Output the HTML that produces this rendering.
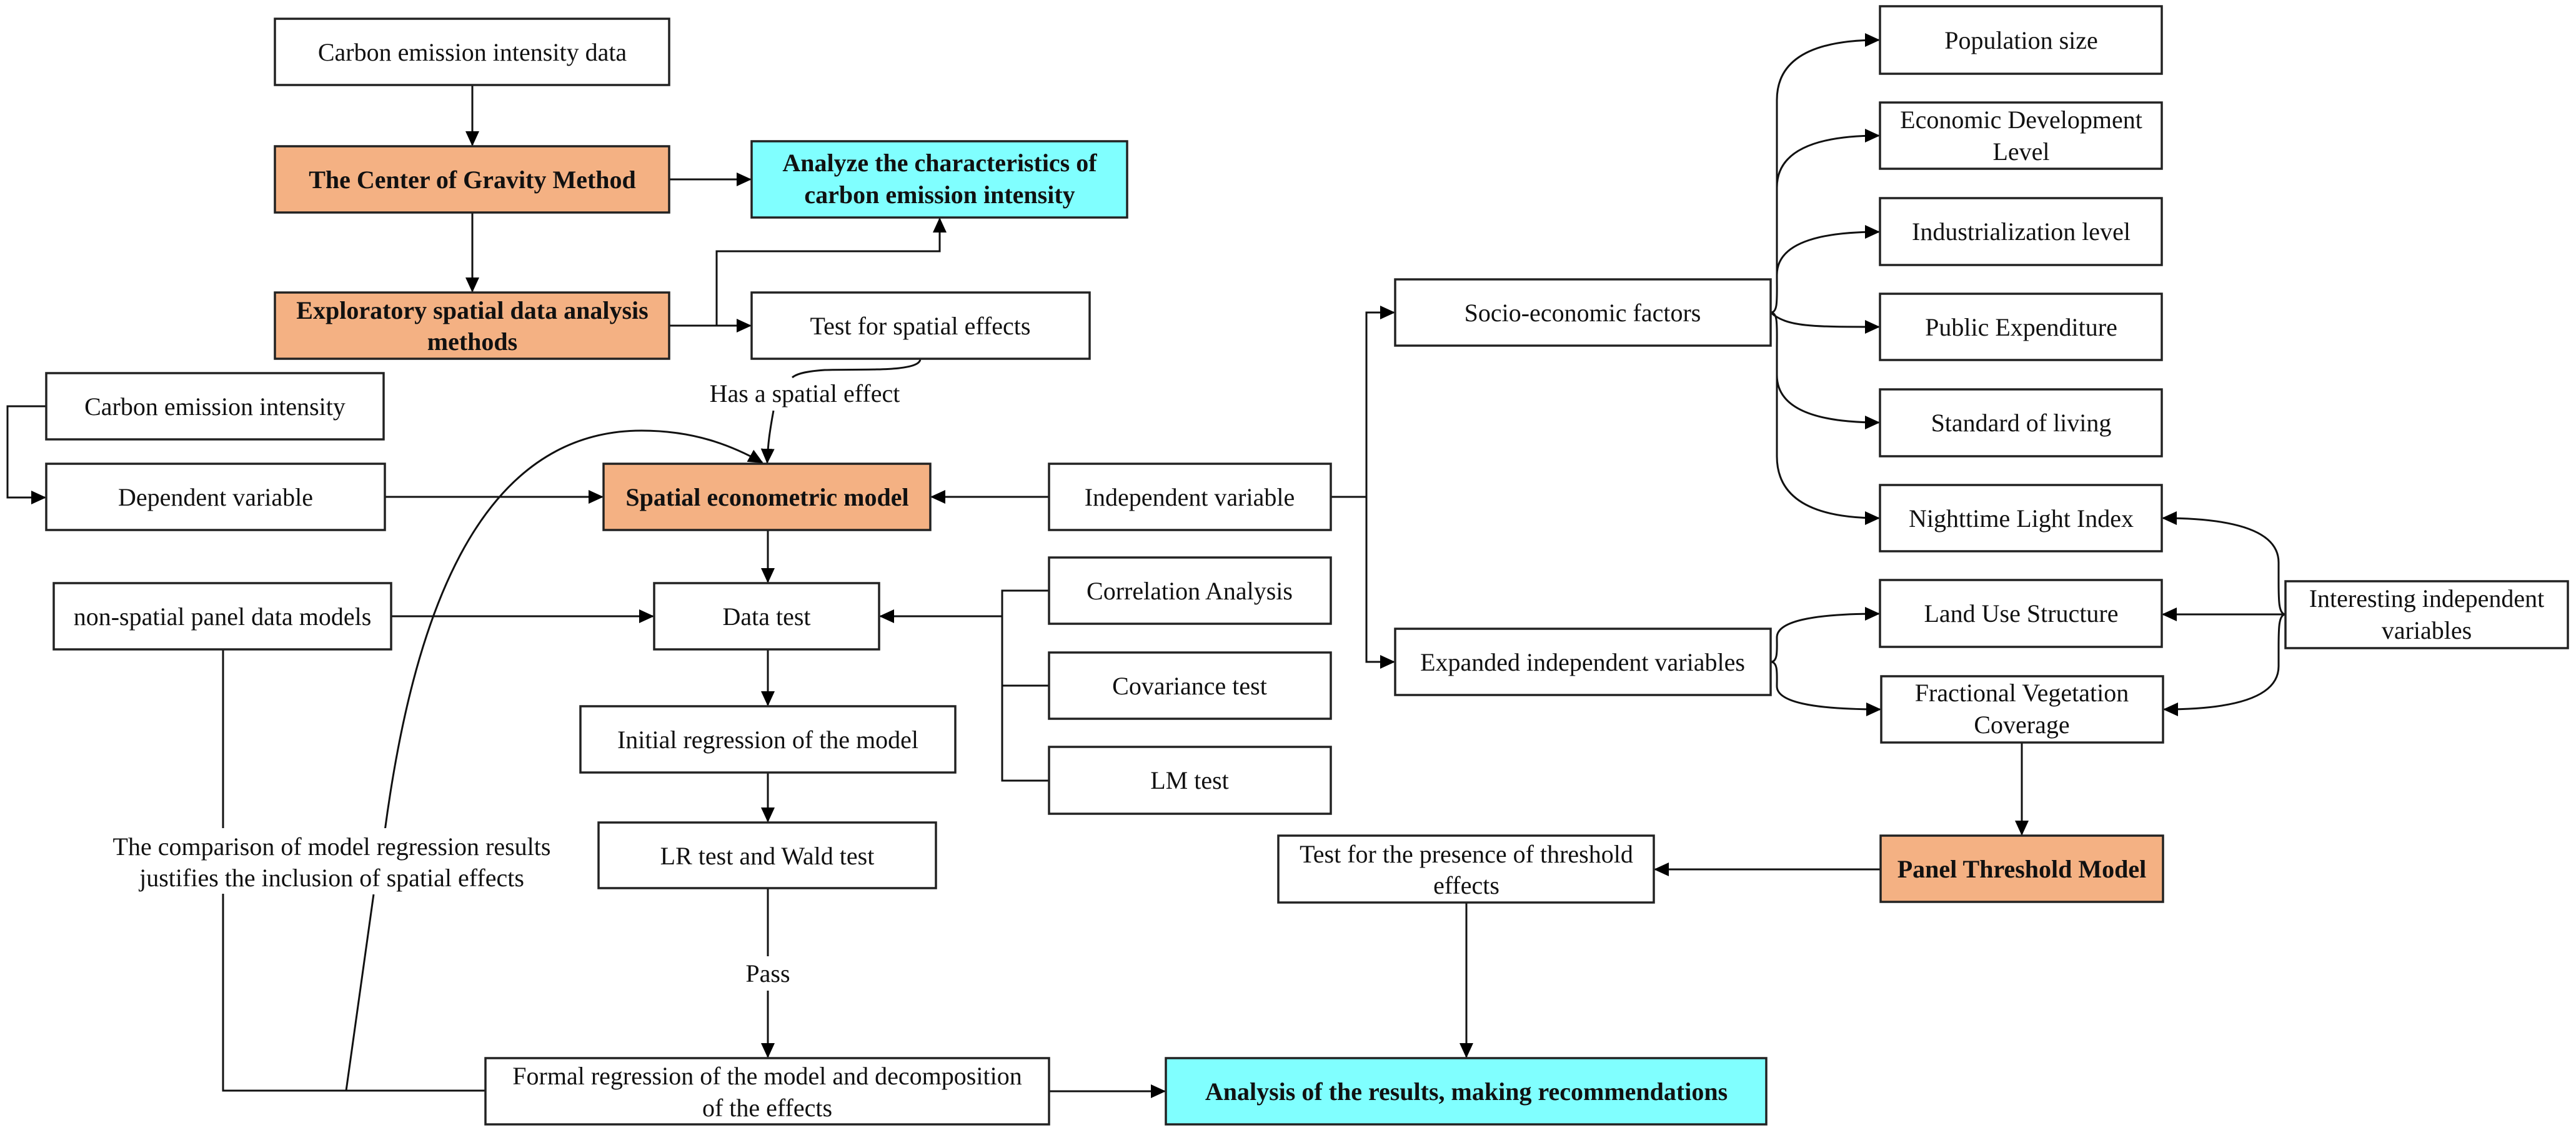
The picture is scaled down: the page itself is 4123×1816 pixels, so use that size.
<!DOCTYPE html>
<html><head><meta charset="utf-8"><style>
html,body{margin:0;padding:0;background:#fff;}
svg{display:block;}
text{font-family:"Liberation Serif",serif;font-size:40px;fill:#111;text-anchor:middle;}
.b{font-weight:bold;}
rect.n{fill:#fff;stroke:#222;stroke-width:3.5;}
rect.o{fill:#F4B183;stroke:#222;stroke-width:3.5;}
rect.c{fill:#80FFFF;stroke:#222;stroke-width:3.5;}
path,line{fill:none;stroke:#111;stroke-width:3;}
</style></head><body>
<svg width="4123" height="1816" viewBox="0 0 4123 1816" xmlns="http://www.w3.org/2000/svg">
<defs>
<marker id="a" markerUnits="userSpaceOnUse" markerWidth="24" markerHeight="22" refX="22" refY="11" orient="auto">
<path d="M0,0 L24,11 L0,22 Z" style="fill:#000;stroke:none"/>
</marker>
</defs>

<!-- connectors -->
<line x1="756" y1="136" x2="756" y2="232" marker-end="url(#a)"/>
<line x1="756" y1="340" x2="756" y2="466" marker-end="url(#a)"/>
<line x1="1071" y1="287" x2="1201" y2="287" marker-end="url(#a)"/>
<line x1="1071" y1="521" x2="1201" y2="521" marker-end="url(#a)"/>
<path d="M1147,521 L1147,402 L1504,402 L1504,350" marker-end="url(#a)"/>
<path d="M1473,574 C1473,596 1380,590 1320,592 C1290,594 1275,598 1268,604"/>
<path d="M1238,657 C1232,690 1229,710 1228,740" marker-end="url(#a)"/>
<path d="M74,650 L12,650 L12,796 L72,796" marker-end="url(#a)"/>
<line x1="616" y1="795" x2="964" y2="795" marker-end="url(#a)"/>
<line x1="1679" y1="795" x2="1491" y2="795" marker-end="url(#a)"/>
<path d="M2130,795 L2187,795"/>
<path d="M2187,1059 L2187,500 L2231,500" marker-end="url(#a)"/>
<path d="M2187,795 L2187,1059 L2231,1059" marker-end="url(#a)"/>
<line x1="1229" y1="848" x2="1229" y2="931" marker-end="url(#a)"/>
<line x1="626" y1="986" x2="1045" y2="986" marker-end="url(#a)"/>
<path d="M1679,945 L1604,945 L1604,1249 L1679,1249"/>
<line x1="1604" y1="1097" x2="1679" y2="1097"/>
<line x1="1604" y1="986" x2="1409" y2="986" marker-end="url(#a)"/>
<line x1="1229" y1="1039" x2="1229" y2="1128" marker-end="url(#a)"/>
<line x1="1229" y1="1236" x2="1229" y2="1314" marker-end="url(#a)"/>
<line x1="1229" y1="1421" x2="1229" y2="1530"/>
<line x1="1229" y1="1585" x2="1229" y2="1691" marker-end="url(#a)"/>
<path d="M357,1039 L357,1330"/>
<path d="M357,1425 L357,1745 L777,1745"/>
<line x1="1679" y1="1746" x2="1864" y2="1746" marker-end="url(#a)"/>
<line x1="2347" y1="1444" x2="2347" y2="1691" marker-end="url(#a)"/>
<line x1="3010" y1="1391" x2="2649" y2="1391" marker-end="url(#a)"/>
<line x1="3236" y1="1188" x2="3236" y2="1335" marker-end="url(#a)"/>
<!-- big curve -->
<path d="M554,1745 L598,1431"/>
<path d="M616,1329 C660,1000 760,689 1027,689 C1110,689 1170,712 1220,740" marker-end="url(#a)"/>
<!-- socio branches -->
<path d="M2834,500 C2846,500 2844,480 2844,440 L2844,160 Q2844,64 3007,64" marker-end="url(#a)"/>
<path d="M2844,300 Q2844,217 3007,217" marker-end="url(#a)"/>
<path d="M2844,440 Q2844,371 3007,371" marker-end="url(#a)"/>
<path d="M2834,500 C2860,523 2900,523 3007,523" marker-end="url(#a)"/>
<path d="M2834,500 C2846,500 2844,520 2844,560 L2844,600 Q2844,676 3007,676" marker-end="url(#a)"/>
<path d="M2844,600 L2844,730 Q2844,829 3007,829" marker-end="url(#a)"/>
<!-- expanded curls -->
<path d="M2834,1059 C2846,1059 2844,1040 2844,1020 Q2844,982 3007,982" marker-end="url(#a)"/>
<path d="M2834,1059 C2846,1059 2844,1078 2844,1098 Q2844,1135 3009,1135" marker-end="url(#a)"/>
<!-- interesting -->
<line x1="3658" y1="983" x2="3462" y2="983" marker-end="url(#a)"/>
<path d="M3658,983 C3647,983 3647,960 3647,930 L3647,900 Q3647,829 3462,829" marker-end="url(#a)"/>
<path d="M3658,983 C3647,983 3647,1006 3647,1036 L3647,1066 Q3647,1135 3464,1135" marker-end="url(#a)"/>

<!-- boxes -->
<rect class="n" x="440" y="30" width="631" height="106"/>
<text x="756" y="97">Carbon emission intensity data</text>
<rect class="o" x="440" y="234" width="631" height="106"/>
<text class="b" x="756" y="301">The Center of Gravity Method</text>
<rect class="o" x="440" y="468" width="631" height="106"/>
<text class="b" x="756" y="510">Exploratory spatial data analysis</text>
<text class="b" x="756" y="560">methods</text>
<rect class="c" x="1203" y="226" width="601" height="122"/>
<text class="b" x="1504" y="274">Analyze the characteristics of</text>
<text class="b" x="1504" y="325">carbon emission intensity</text>
<rect class="n" x="1203" y="468" width="541" height="106"/>
<text x="1473" y="535">Test for spatial effects</text>
<text x="1288" y="643">Has a spatial effect</text>
<rect class="n" x="74" y="597" width="540" height="106"/>
<text x="344" y="664">Carbon emission intensity</text>
<rect class="n" x="74" y="742" width="542" height="106"/>
<text x="345" y="809">Dependent variable</text>
<rect class="o" x="966" y="742" width="523" height="106"/>
<text class="b" x="1228" y="809">Spatial econometric model</text>
<rect class="n" x="1679" y="742" width="451" height="106"/>
<text x="1904" y="809">Independent variable</text>
<rect class="n" x="2233" y="447" width="601" height="106"/>
<text x="2533" y="514">Socio-economic factors</text>
<rect class="n" x="2233" y="1006" width="601" height="106"/>
<text x="2533" y="1073">Expanded independent variables</text>
<rect class="n" x="86" y="933" width="540" height="106"/>
<text x="356" y="1000">non-spatial panel data models</text>
<rect class="n" x="1047" y="933" width="360" height="106"/>
<text x="1227" y="1000">Data test</text>
<rect class="n" x="1679" y="892" width="451" height="106"/>
<text x="1904" y="959">Correlation Analysis</text>
<rect class="n" x="1679" y="1044" width="451" height="106"/>
<text x="1904" y="1111">Covariance test</text>
<rect class="n" x="1679" y="1195" width="451" height="107"/>
<text x="1904" y="1262">LM test</text>
<rect class="n" x="929" y="1130" width="600" height="106"/>
<text x="1229" y="1197">Initial regression of the model</text>
<rect class="n" x="958" y="1316" width="540" height="105"/>
<text x="1228" y="1383">LR test and Wald test</text>
<text x="1229" y="1571">Pass</text>
<rect class="n" x="777" y="1693" width="902" height="106"/>
<text x="1228" y="1735">Formal regression of the model and decomposition</text>
<text x="1228" y="1786">of the effects</text>
<rect x="140" y="1325" width="790" height="105" style="fill:#fff;stroke:none"/>
<text x="531" y="1368">The comparison of model regression results</text>
<text x="531" y="1418">justifies the inclusion of spatial effects</text>
<rect class="c" x="1866" y="1693" width="961" height="106"/>
<text class="b" x="2347" y="1760">Analysis of the results, making recommendations</text>
<rect class="n" x="2046" y="1337" width="601" height="107"/>
<text x="2347" y="1380">Test for the presence of threshold</text>
<text x="2347" y="1430">effects</text>
<rect class="o" x="3010" y="1337" width="452" height="106"/>
<text class="b" x="3236" y="1404">Panel Threshold Model</text>
<rect class="n" x="3009" y="10" width="451" height="108"/>
<text x="3235" y="78">Population size</text>
<rect class="n" x="3009" y="164" width="451" height="106"/>
<text x="3235" y="205">Economic Development</text>
<text x="3235" y="256">Level</text>
<rect class="n" x="3009" y="317" width="451" height="107"/>
<text x="3235" y="384">Industrialization level</text>
<rect class="n" x="3009" y="470" width="451" height="106"/>
<text x="3235" y="537">Public Expenditure</text>
<rect class="n" x="3009" y="623" width="451" height="107"/>
<text x="3235" y="690">Standard of living</text>
<rect class="n" x="3009" y="776" width="451" height="106"/>
<text x="3235" y="843">Nighttime Light Index</text>
<rect class="n" x="3009" y="928" width="451" height="107"/>
<text x="3235" y="995">Land Use Structure</text>
<rect class="n" x="3011" y="1082" width="451" height="106"/>
<text x="3236" y="1122">Fractional Vegetation</text>
<text x="3236" y="1173">Coverage</text>
<rect class="n" x="3658" y="930" width="452" height="107"/>
<text x="3884" y="971">Interesting independent</text>
<text x="3884" y="1022">variables</text>
</svg>
</body></html>
